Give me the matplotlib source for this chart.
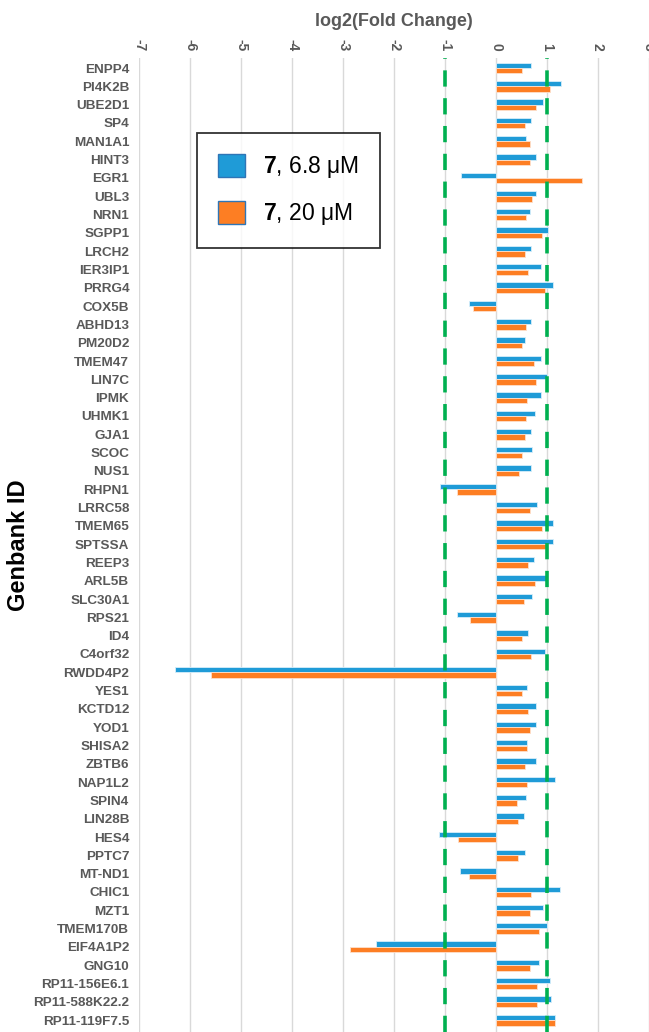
import matplotlib
matplotlib.use("Agg")
import matplotlib.pyplot as plt
from matplotlib.patches import Patch
import numpy as np

genes = ["ENPP4", "PI4K2B", "UBE2D1", "SP4", "MAN1A1", "HINT3", "EGR1", "UBL3", "NRN1",
         "SGPP1", "LRCH2", "IER3IP1", "PRRG4", "COX5B", "ABHD13", "PM20D2", "TMEM47",
         "LIN7C", "IPMK", "UHMK1", "GJA1", "SCOC", "NUS1", "RHPN1", "LRRC58", "TMEM65",
         "SPTSSA", "REEP3", "ARL5B", "SLC30A1", "RPS21", "ID4", "C4orf32", "RWDD4P2",
         "YES1", "KCTD12", "YOD1", "SHISA2", "ZBTB6", "NAP1L2", "SPIN4", "LIN28B", "HES4",
         "PPTC7", "MT-ND1", "CHIC1", "MZT1", "TMEM170B", "EIF4A1P2", "GNG10",
         "RP11-156E6.1", "RP11-588K22.2", "RP11-119F7.5"]

fc_6_8uM = [0.68, 1.27, 0.93, 0.68, 0.59, 0.78, -0.68, 0.78, 0.66,
            1.01, 0.68, 0.88, 1.12, -0.53, 0.68, 0.56, 0.88,
            1.00, 0.88, 0.76, 0.68, 0.71, 0.68, -1.10, 0.81, 1.12,
            1.12, 0.74, 1.00, 0.71, -0.77, 0.63, 0.96, -6.30,
            0.61, 0.78, 0.78, 0.61, 0.78, 1.15, 0.59, 0.54, -1.12,
            0.56, -0.70, 1.25, 0.93, 1.00, -2.35, 0.85,
            1.05, 1.07, 1.15]

fc_20uM = [0.51, 1.05, 0.78, 0.56, 0.66, 0.66, 1.69, 0.71, 0.59,
           0.90, 0.56, 0.63, 0.96, -0.46, 0.59, 0.51, 0.74,
           0.78, 0.61, 0.59, 0.56, 0.51, 0.46, -0.77, 0.66, 0.90,
           0.98, 0.63, 0.76, 0.54, -0.51, 0.51, 0.68, -5.59,
           0.51, 0.63, 0.66, 0.61, 0.56, 0.61, 0.41, 0.44, -0.75,
           0.44, -0.53, 0.68, 0.66, 0.85, -2.87, 0.66,
           0.81, 0.81, 1.15]

x_ticks = [-7, -6, -5, -4, -3, -2, -1, 0, 1, 2, 3]
thresholds = [-1, 1]
series_labels = [r"$\mathbf{7}$, 6.8 μM", r"$\mathbf{7}$, 20 μM"]

plt.rcParams['font.family'] = ['Liberation Sans', 'DejaVu Sans']
plt.rcParams['mathtext.fontset'] = 'custom'
plt.rcParams['mathtext.rm'] = 'Liberation Sans'
plt.rcParams['mathtext.bf'] = 'Liberation Sans:bold'

BLUE = '#1f9bd7'
ORANGE = '#fd7e23'
GRAY = '#595959'

fig = plt.figure(figsize=(6.49, 10.32), dpi=100)
ax = fig.add_axes([139/649, 0.0, 1 - 139/649, 1 - 58/1032])

y = np.arange(len(genes))
h = 0.29
ax.barh(y - 0.15, fc_6_8uM, height=h, color=BLUE, edgecolor='#d6eefa', linewidth=0.6, zorder=3)
ax.barh(y + 0.15, fc_20uM, height=h, color=ORANGE, edgecolor='#fde0cc', linewidth=0.6, zorder=3)

for t in thresholds:
    ax.axvline(t, color='#00b050', linewidth=2.6, linestyle=(0, (4.5, 3.2)), zorder=4)

ax.set_xlim(x_ticks[0], x_ticks[-1])
ax.set_ylim(len(genes) - 1 + 0.65, -0.55)
ax.set_xticks(x_ticks)
ax.set_xticklabels([str(v) for v in x_ticks], rotation=-90, color=GRAY,
                   fontweight='bold', fontsize=10)
ax.xaxis.tick_top()
ax.xaxis.set_label_position('top')
ax.set_xlabel("log2(Fold Change)", fontsize=13, fontweight='bold', color=GRAY, labelpad=9)
ax.set_yticks(y)
ax.set_yticklabels(genes, color=GRAY, fontweight='bold', fontsize=9.7)
ax.tick_params(axis='y', length=0, pad=7)
ax.tick_params(axis='x', length=0, pad=5)
ax.set_ylabel("Genbank ID", fontsize=17, fontweight='bold', color='black')
ax.yaxis.set_label_coords((30 - 139) / 510, 0.5)

ax.grid(axis='x', color='#d9d9d9', linewidth=1.0, zorder=0)
ax.set_axisbelow(True)
for s in ax.spines.values():
    s.set_visible(False)

handles = [Patch(facecolor=BLUE, edgecolor='#2e75b6', linewidth=1.0),
           Patch(facecolor=ORANGE, edgecolor='#2e75b6', linewidth=1.0)]
leg = ax.legend(handles, series_labels, loc='upper left',
                bbox_to_anchor=(58/510, 1 - (133-58)/974), borderaxespad=0,
                fontsize=16.5, frameon=True, fancybox=False, handlelength=1.2,
                handleheight=1.2, borderpad=0.9, labelspacing=0.9, handletextpad=0.8)
leg.get_frame().set_edgecolor('black')
leg.get_frame().set_linewidth(1.3)
leg.set_zorder(10)

fig.savefig("out.png", dpi=100)
